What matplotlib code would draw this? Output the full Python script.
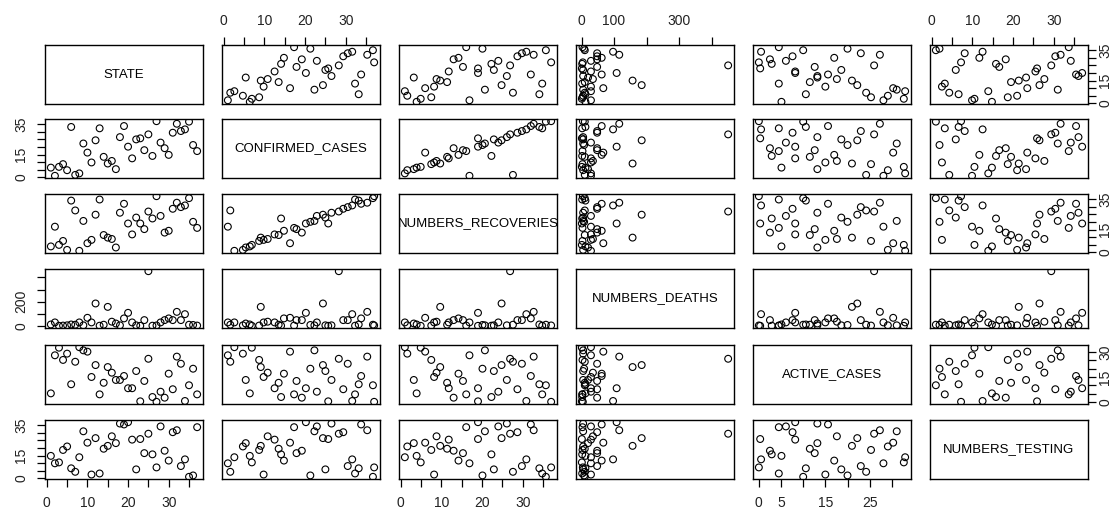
import matplotlib
matplotlib.use('Agg')
from matplotlib import pyplot as plt

plt.rcParams['font.family'] = ['Liberation Sans', 'DejaVu Sans']

# values (one entry per state)
state = list(range(1, 38))
confirmed = [6.4, 1.0, 6.9, 8.7, 4.7, 33.2, 1.6, 2.6, 22.3, 16.3,
             9.8, 24.4, 32.3, 13.5, 9.1, 10.8, 5.4, 26.5, 33.8, 20.2,
             12.5, 25.0, 25.7, 17.9, 28.3, 14.1, 37.0, 22.9, 19.2, 14.8,
             29.4, 35.3, 30.5, 31.6, 36.7, 21.3, 17.3]
recoveries = [3.9, 16.9, 4.9, 7.5, 1.6, 34.1, 27.6, 1.0, 20.7, 6.0,
              8.2, 24.8, 34.8, 11.4, 9.7, 8.8, 3.2, 26.1, 32.0, 19.0,
              11.8, 22.9, 19.0, 15.3, 26.9, 22.3, 37.0, 24.0, 13.0, 14.2,
              28.7, 32.7, 29.8, 30.9, 35.7, 20.1, 16.1]
deaths = [12, 29, 1, 3, 5, 12, 10, 29, 5, 67,
          29, 185, 2, 10, 157, 35, 20, 5, 62, 108,
          29, 5, 1, 48, 451, 2, 4, 29, 48, 62,
          48, 116, 48, 97, 10, 8, 3]
active = [5.1, 28.1, 32.7, 25.3, 29.1, 10.6, 24.2, 33.0, 31.1, 30.3,
          15.0, 22.2, 4.5, 11.5, 21.0, 17.6, 13.2, 13.2, 15.6, 8.2,
          8.2, 18.6, 0.3, 12.6, 26.0, 2.9, 0.0, 6.1, 2.5, 17.0,
          7.6, 27.3, 23.0, 0.5, 10.0, 20.0, 4.5]
testing = [14.8, 9.9, 10.5, 18.7, 21.0, 6.6, 4.3, 13.9, 31.0, 23.5,
           2.5, 26.5, 3.2, 19.5, 21.4, 27.7, 23.2, 36.1, 35.5, 37.0,
           25.5, 5.9, 25.9, 16.6, 29.4, 15.8, 7.2, 34.2, 18.2, 11.7,
           30.4, 31.7, 8.1, 12.5, 1.0, 1.9, 33.7]

names = ['STATE', 'CONFIRMED_CASES', 'NUMBERS_RECOVERIES',
         'NUMBERS_DEATHS', 'ACTIVE_CASES', 'NUMBERS_TESTING']
columns = [state, confirmed, recoveries, deaths, active, testing]

# tick positions and the labels R managed to print on each side
ticks = [list(range(0, 40, 5)), list(range(0, 40, 5)), list(range(0, 40, 5)),
         list(range(0, 500, 100)), list(range(0, 35, 5)), list(range(0, 40, 5))]
x_labels = [[0, 10, 20, 30], [0, 10, 20, 30], [0, 10, 20, 30],
            [0, 100, 300], [0, 5, 15, 25], [0, 10, 20, 30]]
y_labels = [[0, 15, 35], [0, 15, 35], [0, 15, 35],
            [0, 200], [0, 15, 30], [0, 15, 35]]


def r_limits(v):
    lo, hi = min(v), max(v)
    pad = 0.04 * (hi - lo)
    return lo - pad, hi + pad


def label_list(tk, shown):
    return [str(t) if t in shown else '' for t in tk]


W, H = 1116, 509
fig = plt.figure(figsize=(W / 100, H / 100), dpi=100)

col_left = [45, 222, 399, 576, 753, 930]
row_top = [45, 119, 194, 269, 345, 420]
pw, ph = 158, 59
n = len(names)
tick_kw = dict(length=6, width=0.9, direction='out', labelsize=10,
               labelcolor='#222222')

for i in range(n):
    for j in range(n):
        ax = fig.add_axes([col_left[j] / W, 1 - (row_top[i] + ph) / H,
                           pw / W, ph / H])
        for s in ax.spines.values():
            s.set_linewidth(1.0)
            s.set_color('black')
        ax.set_xticks([])
        ax.set_yticks([])
        if i == j:
            ax.set_xlim(0, 1)
            ax.set_ylim(0, 1)
            ax.text(0.5, 0.5, names[i], ha='center', va='center',
                    fontsize=9.5, clip_on=True)
            continue
        ax.scatter(columns[j], columns[i], s=24, facecolors='none',
                   edgecolors='black', linewidths=0.8)
        ax.set_xlim(r_limits(columns[j]))
        ax.set_ylim(r_limits(columns[i]))

        # outer axes, alternating sides like pairs()
        if i == 0 and j % 2 == 1:
            ax.set_xticks(ticks[j])
            ax.set_xticklabels(label_list(ticks[j], x_labels[j]))
            ax.tick_params(axis='x', top=True, bottom=False, labeltop=True,
                           labelbottom=False, pad=6, **tick_kw)
        if i == n - 1 and j % 2 == 0:
            ax.set_xticks(ticks[j])
            ax.set_xticklabels(label_list(ticks[j], x_labels[j]))
            ax.tick_params(axis='x', bottom=True, labelbottom=True, pad=6,
                           **tick_kw)
        if j == 0 and i % 2 == 1:
            ax.set_yticks(ticks[i])
            ax.set_yticklabels(label_list(ticks[i], y_labels[i]),
                               rotation=90, va='center')
            ax.tick_params(axis='y', left=True, labelleft=True, pad=6,
                           **tick_kw)
        if j == n - 1 and i % 2 == 0:
            ax.set_yticks(ticks[i])
            ax.set_yticklabels(label_list(ticks[i], y_labels[i]),
                               rotation=90, va='center')
            ax.tick_params(axis='y', right=True, left=False, labelright=True,
                           labelleft=False, pad=1.5, **tick_kw)

fig.savefig('out.png', dpi=100)
